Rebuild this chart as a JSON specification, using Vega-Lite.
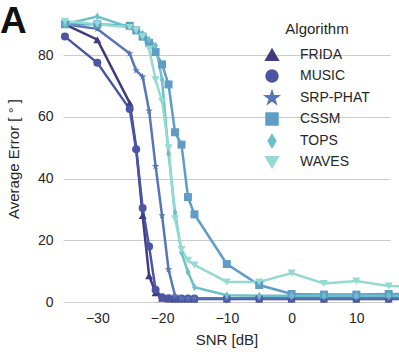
{
  "$schema": "https://vega.github.io/schema/vega-lite/v6.json",
  "autosize": {"type": "none"},
  "width": 327,
  "height": 287,
  "padding": {"left": 63, "top": 15, "right": 9, "bottom": 57},
  "background": "white",
  "title": {"text": "A", "anchor": "start", "frame": "group", "dx": -63, "dy": 58, "fontSize": 37, "fontWeight": "bold", "font": "Liberation Sans", "color": "#111111", "offset": 0, "baseline": "alphabetic"},
  "config": {
    "view": {"stroke": null},
    "font": "Liberation Sans",
    "axis": {"labelFont": "Liberation Sans", "titleFont": "Liberation Sans", "labelColor": "#262626", "titleColor": "#262626", "labelFontSize": 14, "titleFontSize": 15, "titleFontWeight": "normal", "domain": false, "ticks": false}
  },
  "data": {"values": [
    {"snr": -35, "err": 90, "alg": "FRIDA"}, {"snr": -30, "err": 85, "alg": "FRIDA"}, {"snr": -25, "err": 64.5, "alg": "FRIDA"}, {"snr": -24, "err": 50, "alg": "FRIDA"}, {"snr": -23, "err": 28, "alg": "FRIDA"}, {"snr": -22, "err": 8.5, "alg": "FRIDA"}, {"snr": -21, "err": 3, "alg": "FRIDA"}, {"snr": -20, "err": 1.2, "alg": "FRIDA"}, {"snr": -19, "err": 1, "alg": "FRIDA"}, {"snr": -18, "err": 1, "alg": "FRIDA"}, {"snr": -17, "err": 1, "alg": "FRIDA"}, {"snr": -16, "err": 1, "alg": "FRIDA"}, {"snr": -15, "err": 1, "alg": "FRIDA"}, {"snr": -10, "err": 1, "alg": "FRIDA"}, {"snr": -5, "err": 1, "alg": "FRIDA"}, {"snr": 0, "err": 1, "alg": "FRIDA"}, {"snr": 5, "err": 1, "alg": "FRIDA"}, {"snr": 10, "err": 1, "alg": "FRIDA"}, {"snr": 15, "err": 1, "alg": "FRIDA"}, {"snr": 20, "err": 1, "alg": "FRIDA"},
    {"snr": -35, "err": 86, "alg": "MUSIC"}, {"snr": -30, "err": 77.5, "alg": "MUSIC"}, {"snr": -25, "err": 62.5, "alg": "MUSIC"}, {"snr": -24, "err": 49.5, "alg": "MUSIC"}, {"snr": -23, "err": 30.5, "alg": "MUSIC"}, {"snr": -22, "err": 18, "alg": "MUSIC"}, {"snr": -21, "err": 4, "alg": "MUSIC"}, {"snr": -20, "err": 1.5, "alg": "MUSIC"}, {"snr": -19, "err": 1.2, "alg": "MUSIC"}, {"snr": -18, "err": 1.1, "alg": "MUSIC"}, {"snr": -17, "err": 1.1, "alg": "MUSIC"}, {"snr": -16, "err": 1.1, "alg": "MUSIC"}, {"snr": -15, "err": 1.1, "alg": "MUSIC"}, {"snr": -10, "err": 1.1, "alg": "MUSIC"}, {"snr": -5, "err": 1.1, "alg": "MUSIC"}, {"snr": 0, "err": 1.1, "alg": "MUSIC"}, {"snr": 5, "err": 1.1, "alg": "MUSIC"}, {"snr": 10, "err": 1.1, "alg": "MUSIC"}, {"snr": 15, "err": 1.1, "alg": "MUSIC"}, {"snr": 20, "err": 1.1, "alg": "MUSIC"},
    {"snr": -35, "err": 90, "alg": "SRP-PHAT"}, {"snr": -30, "err": 88.5, "alg": "SRP-PHAT"}, {"snr": -25, "err": 80.5, "alg": "SRP-PHAT"}, {"snr": -24, "err": 75, "alg": "SRP-PHAT"}, {"snr": -23, "err": 73, "alg": "SRP-PHAT"}, {"snr": -22, "err": 62, "alg": "SRP-PHAT"}, {"snr": -21, "err": 44, "alg": "SRP-PHAT"}, {"snr": -20, "err": 28, "alg": "SRP-PHAT"}, {"snr": -19, "err": 10.5, "alg": "SRP-PHAT"}, {"snr": -18, "err": 2, "alg": "SRP-PHAT"}, {"snr": -17, "err": 1.3, "alg": "SRP-PHAT"}, {"snr": -16, "err": 1.2, "alg": "SRP-PHAT"}, {"snr": -15, "err": 1.2, "alg": "SRP-PHAT"}, {"snr": -10, "err": 1.2, "alg": "SRP-PHAT"}, {"snr": -5, "err": 1.2, "alg": "SRP-PHAT"}, {"snr": 0, "err": 1.2, "alg": "SRP-PHAT"}, {"snr": 5, "err": 1.2, "alg": "SRP-PHAT"}, {"snr": 10, "err": 1.2, "alg": "SRP-PHAT"}, {"snr": 15, "err": 1.2, "alg": "SRP-PHAT"}, {"snr": 20, "err": 1.2, "alg": "SRP-PHAT"},
    {"snr": -35, "err": 90, "alg": "CSSM"}, {"snr": -30, "err": 90, "alg": "CSSM"}, {"snr": -25, "err": 89.5, "alg": "CSSM"}, {"snr": -24, "err": 88, "alg": "CSSM"}, {"snr": -23, "err": 86, "alg": "CSSM"}, {"snr": -22, "err": 84, "alg": "CSSM"}, {"snr": -21, "err": 81, "alg": "CSSM"}, {"snr": -20, "err": 77, "alg": "CSSM"}, {"snr": -19, "err": 70.5, "alg": "CSSM"}, {"snr": -18, "err": 55, "alg": "CSSM"}, {"snr": -17, "err": 51, "alg": "CSSM"}, {"snr": -16, "err": 34, "alg": "CSSM"}, {"snr": -15, "err": 28.4, "alg": "CSSM"}, {"snr": -10, "err": 12.3, "alg": "CSSM"}, {"snr": -5, "err": 5.5, "alg": "CSSM"}, {"snr": 0, "err": 2.6, "alg": "CSSM"}, {"snr": 5, "err": 2.4, "alg": "CSSM"}, {"snr": 10, "err": 2.4, "alg": "CSSM"}, {"snr": 15, "err": 2.6, "alg": "CSSM"}, {"snr": 20, "err": 2.6, "alg": "CSSM"},
    {"snr": -35, "err": 90, "alg": "TOPS"}, {"snr": -30, "err": 92.5, "alg": "TOPS"}, {"snr": -25, "err": 89, "alg": "TOPS"}, {"snr": -24, "err": 88, "alg": "TOPS"}, {"snr": -23, "err": 87, "alg": "TOPS"}, {"snr": -22, "err": 85, "alg": "TOPS"}, {"snr": -21, "err": 83, "alg": "TOPS"}, {"snr": -20, "err": 72, "alg": "TOPS"}, {"snr": -19, "err": 48, "alg": "TOPS"}, {"snr": -18, "err": 29, "alg": "TOPS"}, {"snr": -17, "err": 16, "alg": "TOPS"}, {"snr": -16, "err": 9.7, "alg": "TOPS"}, {"snr": -15, "err": 4.8, "alg": "TOPS"}, {"snr": -10, "err": 2.2, "alg": "TOPS"}, {"snr": -5, "err": 2, "alg": "TOPS"}, {"snr": 0, "err": 2, "alg": "TOPS"}, {"snr": 5, "err": 2, "alg": "TOPS"}, {"snr": 10, "err": 2, "alg": "TOPS"}, {"snr": 15, "err": 2, "alg": "TOPS"}, {"snr": 20, "err": 2, "alg": "TOPS"},
    {"snr": -35, "err": 91, "alg": "WAVES"}, {"snr": -30, "err": 90, "alg": "WAVES"}, {"snr": -25, "err": 89, "alg": "WAVES"}, {"snr": -24, "err": 88, "alg": "WAVES"}, {"snr": -23, "err": 86, "alg": "WAVES"}, {"snr": -22, "err": 82, "alg": "WAVES"}, {"snr": -21, "err": 72, "alg": "WAVES"}, {"snr": -20, "err": 65, "alg": "WAVES"}, {"snr": -19, "err": 50, "alg": "WAVES"}, {"snr": -18, "err": 27, "alg": "WAVES"}, {"snr": -17, "err": 17, "alg": "WAVES"}, {"snr": -16, "err": 13.5, "alg": "WAVES"}, {"snr": -15, "err": 12, "alg": "WAVES"}, {"snr": -10, "err": 6.5, "alg": "WAVES"}, {"snr": -5, "err": 6.5, "alg": "WAVES"}, {"snr": 0, "err": 9.4, "alg": "WAVES"}, {"snr": 5, "err": 6, "alg": "WAVES"}, {"snr": 10, "err": 6.8, "alg": "WAVES"}, {"snr": 15, "err": 5.2, "alg": "WAVES"}, {"snr": 20, "err": 5, "alg": "WAVES"}
  ]},
  "layer": [
    {
      "mark": {"type": "line", "strokeWidth": 2.5},
      "encoding": {
        "x": {"field": "snr", "type": "quantitative", "title": "SNR [dB]",
          "scale": {"domain": [-35.3, 15.2], "nice": false, "zero": false},
          "axis": {"values": [-30, -20, -10, 0, 10], "grid": false, "labelPadding": 9, "titlePadding": 7, "labelExpr": "replace(datum.label, '-', '−')"}},
        "y": {"field": "err", "type": "quantitative", "title": "Average Error [ ° ]",
          "scale": {"domain": [0, 93], "nice": false},
          "axis": {"values": [0, 20, 40, 60, 80], "grid": true, "gridColor": "#cccccc", "gridWidth": 1.2, "labelPadding": 10, "titlePadding": 16}},
        "color": {"field": "alg", "type": "nominal",
          "scale": {"domain": ["FRIDA", "MUSIC", "SRP-PHAT", "CSSM", "TOPS", "WAVES"], "range": ["#3e3b7f", "#4b55a4", "#5776b8", "#5f9dc6", "#6dc0c9", "#93dbd1"]},
          "legend": {
            "orient": "none", "legendX": 202, "legendY": 7,
            "title": "Algorithm", "titleFontSize": 15, "titleFontWeight": "normal", "titleColor": "#262626", "titleFont": "Liberation Sans", "titleAnchor": "middle", "titlePadding": 11,
            "labelFontSize": 14, "labelColor": "#262626", "labelFont": "Liberation Sans", "labelOffset": 21,
            "symbolSize": 120, "symbolStrokeWidth": 2.5, "rowPadding": 0, "symbolType": "stroke",
            "encode": {"symbols": {"update": {
              "fill": {"scale": "color", "field": "value"},
              "stroke": {"scale": "color", "field": "value"},
              "opacity": {"value": 1}
            }}}
          }}
      }
    },
    {
      "transform": [{"calculate": "datum.alg", "as": "marker"}],
      "mark": {"type": "point", "filled": true, "opacity": 1, "size": 64},
      "encoding": {
        "x": {"field": "snr", "type": "quantitative"},
        "y": {"field": "err", "type": "quantitative"},
        "color": {"field": "alg", "type": "nominal", "legend": null},
        "shape": {"field": "marker", "type": "nominal", "legend": null,
          "scale": {"domain": ["FRIDA", "MUSIC", "SRP-PHAT", "CSSM", "TOPS", "WAVES"], "range": ["triangle-up", "circle", "M0,-1L0.225,-0.309L0.951,-0.309L0.363,0.118L0.588,0.809L0,0.382L-0.588,0.809L-0.363,0.118L-0.951,-0.309L-0.225,-0.309Z", "square", "M0,-1L0.6,0L0,1L-0.6,0Z", "triangle-down"]}}
      }
    }
  ]
}
